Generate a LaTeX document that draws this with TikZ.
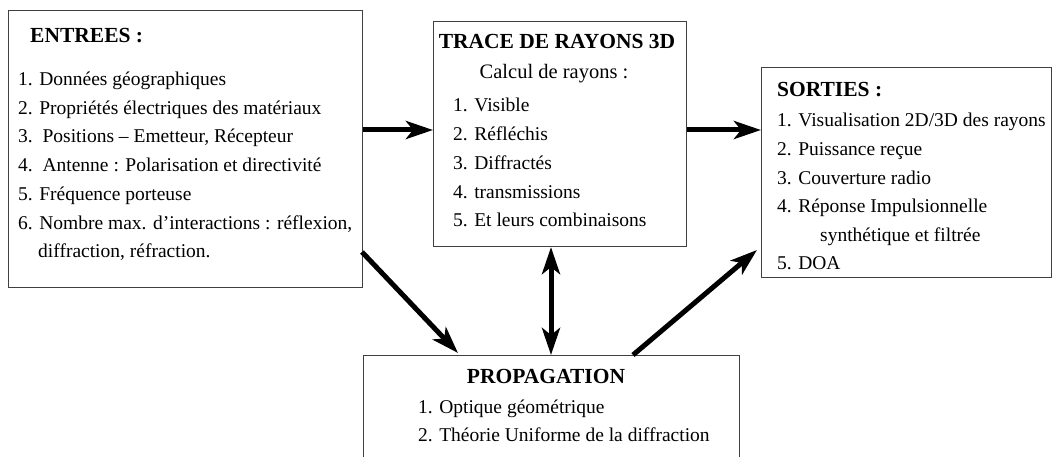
\documentclass[tikz,border=0pt]{standalone}
\usepackage{fontspec}
\setmainfont{Liberation Serif}
\usetikzlibrary{arrows.meta}
\begin{document}
\begin{tikzpicture}[x=1pt,y=-1pt,
  box/.style={draw=black!75,line width=1.1pt,rectangle,inner sep=0pt,anchor=north west},
  txt/.style={inner sep=0pt,anchor=base west,font=\fontsize{19.5}{22}\selectfont},
  head/.style={inner sep=0pt,anchor=base west,font=\fontsize{21.5}{24}\selectfont\bfseries},
  flow/.style={line width=5pt,-{Stealth[length=27pt,width=18pt,inset=7pt]}},
  both/.style={line width=5pt,{Stealth[length=27pt,width=18pt,inset=7pt]}-{Stealth[length=27pt,width=18pt,inset=7pt]}}]
\useasboundingbox (0,0) rectangle (1053,457);
\clip (0,0) rectangle (1053,457);
\fill[white] (0,0) rectangle (1053,457);

% boxes
\node[box,minimum width=354pt,minimum height=277pt] (entrees) at (8,10) {};
\node[box,minimum width=253pt,minimum height=225pt] (trace) at (433,21) {};
\node[box,minimum width=290pt,minimum height=210pt] (sorties) at (761,67) {};
\node[box,minimum width=376pt,minimum height=130pt] (prop) at (363,355) {};

% ENTREES
\node[head] (eh) at (30,43) {ENTREES :};
\node[txt] (e1) at (18,86) {1. Données géographiques};
\node[txt] (e2) at (18,115) {2. Propriétés électriques des matériaux};
\node[txt] (e3) at (18,143) {3.\ \ Positions -- Emetteur, Récepteur};
\node[txt] (e4) at (18,172) {4.\ \ Antenne : Polarisation et directivité};
\node[txt] (e5) at (18,201) {5. Fréquence porteuse};
\node[txt] (e6) at (18,230) {6. Nombre max. d’interactions : réflexion,};
\node[txt] (e7) at (38,258) {diffraction, réfraction.};

% TRACE DE RAYONS 3D
\node[head,anchor=base] (th) at (557,49) {TRACE DE RAYONS 3D};
\node[txt,anchor=base,font=\fontsize{20.5}{22}\selectfont] (tc) at (554,79) {Calcul de rayons :};
\node[txt] (t1) at (453,112) {1. Visible};
\node[txt] (t2) at (453,141) {2. Réfléchis};
\node[txt] (t3) at (453,170) {3. Diffractés};
\node[txt] (t4) at (453,199) {4. transmissions};
\node[txt] (t5) at (453,227) {5. Et leurs combinaisons};

% SORTIES
\node[head] (sh) at (777,97) {SORTIES :};
\node[txt] (s1) at (777,127) {1. Visualisation 2D/3D des rayons};
\node[txt] (s2) at (777,156) {2. Puissance reçue};
\node[txt] (s3) at (777,185) {3. Couverture radio};
\node[txt] (s4) at (777,213) {4. Réponse Impulsionnelle};
\node[txt] (s5) at (820,242) {synthétique et filtrée};
\node[txt] (s6) at (777,270) {5. DOA};

% PROPAGATION
\node[head,anchor=base] (ph) at (546,383) {PROPAGATION};
\node[txt] (p1) at (418,413) {1. Optique géométrique};
\node[txt] (p2) at (418,441) {2. Théorie Uniforme de la diffraction};

% connectors
\coordinate (a1s) at (entrees.east |- 0,130);
\coordinate (a1e) at (trace.west |- 0,130);
\coordinate (a2s) at (trace.east |- 0,130);
\coordinate (a2e) at (sorties.west |- 0,130);
\coordinate (a3s) at (362,252);
\coordinate (a3e) at (458,353);
\coordinate (a4s) at (trace.south -| 551,0);
\coordinate (a4e) at (prop.north -| 551,0);
\coordinate (a5s) at (633,355);
\coordinate (a5e) at (757,250);
\draw[flow] (a1s) -- (a1e);
\draw[flow] (a2s) -- (a2e);
\draw[flow] (a3s) -- (a3e);
\draw[both] (a4s) -- (a4e);
\draw[flow] (a5s) -- (a5e);
\end{tikzpicture}
\end{document}
